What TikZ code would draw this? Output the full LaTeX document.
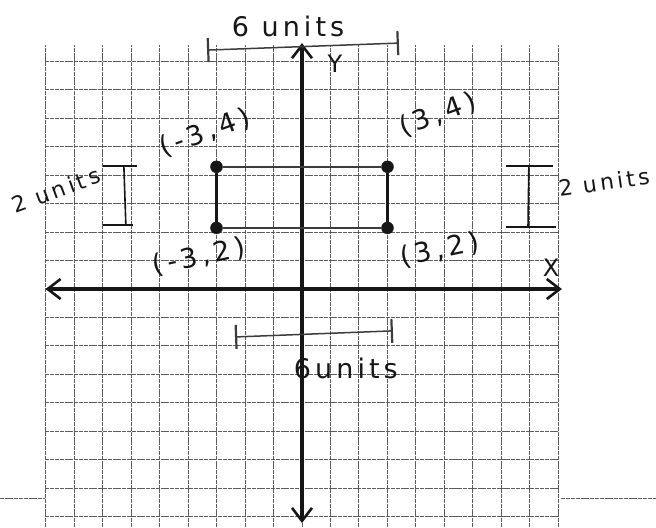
\documentclass[tikz,border=0pt]{standalone}
\usepackage{fontspec}
\usepackage{xcolor}
\usepackage{tikz}
\usetikzlibrary{arrows.meta, positioning, calc}
\newfontfamily\handfont[LetterSpace=15]{DejaVu Sans}
\definecolor{gridgray}{HTML}{5C5C5C}
\definecolor{inkblack}{HTML}{161616}
\definecolor{pencilgray}{HTML}{3C3C3C}

\begin{document}
\begin{tikzpicture}[
  x=28.5pt, y=30.55pt,
  gridline/.style={color=gridgray, line width=0.9pt, dash pattern=on 4pt off 0.8pt},
  axis/.style={color=inkblack, line width=3.2pt,
               {Straight Barb[length=13pt, width=20pt, line width=2.6pt]}-{Straight Barb[length=13pt, width=20pt, line width=2.6pt]}},
  dot/.style={circle, fill=inkblack, draw=inkblack, inner sep=0pt, minimum size=12pt},
  edge/.style={color=pencilgray, line width=1.8pt},
  side/.style={color=inkblack, line width=2.2pt},
  measure/.style={{Bar[width=24pt, line width=2.2pt]}-{Bar[width=24pt, line width=2.2pt]},
                  line width=1.5pt, color=pencilgray},
  bracket/.style={color=inkblack, line width=1.6pt},
  lbl/.style={font=\handfont\fontsize{27}{30}\selectfont, inner sep=0pt, color=inkblack},
  smalllbl/.style={font=\handfont\fontsize{22}{26}\selectfont, inner sep=0pt, color=inkblack},
]
% Frame
\useasboundingbox (-10.596,-7.790) rectangle (12.421,9.460);

% Grid paper
\draw[gridline] (-9,-7.79) grid (9,8);
\draw[gridline] (-10.6,-6.85) -- (-9,-6.85);
\draw[gridline] (9.1,-6.85) -- (12.43,-6.85);

% Axes
\coordinate (xl) at (-9,0);
\coordinate (xr) at (9.12,0);
\coordinate (yt) at (0,8.05);
\coordinate (yb) at (0,-7.66);
\draw[axis] (xl) -- (xr);
\draw[axis] (yb) -- (yt);
\node[lbl, font=\handfont\fontsize{24}{26}\selectfont] (ylab) at (1.16,7.36) {Y};
\node[lbl, font=\handfont\fontsize{24}{26}\selectfont] (xlab) at (8.74,0.69) {X};

% Corners
\node[dot] (ptl) at (-3,4) {};
\node[dot] (pbl) at (-3,2) {};
\node[dot] (ptr) at (3,4) {};
\node[dot] (pbr) at (3,2) {};

% Rectangle
\draw[edge] (ptl) -- (ptr);
\draw[edge] (pbl) -- (pbr);
\draw[side] (ptl) -- (pbl);
\draw[side] (ptr) -- (pbr);

% Corner labels
\node[lbl, rotate=20] (ltl) at (-3.40,5.11) {(-3,4)};
\node[lbl, rotate=12] (lbl) at (-3.61,1.05) {(-3,2)};
\node[lbl, rotate=20] (ltr) at (4.77,5.70) {(3,4)};
\node[lbl, rotate=12] (lbr) at (4.84,1.28) {(3,2)};

% Width marks
\coordinate (wt1) at (-3.33,7.82);
\coordinate (wt2) at (3.40,8.05);
\draw[measure] (wt1) -- (wt2);
\node[lbl] (wtop) at (-0.49,8.61) {6 units};

\coordinate (wb1) at (-2.35,-1.57);
\coordinate (wb2) at (3.19,-1.37);
\draw[measure] (wb1) -- (wb2);
\node[lbl] (wbot) at (1.54,-2.59) {6units};

% Height marks
\draw[bracket] (-6.98,4.03) -- (-5.79,4.03);
\draw[bracket] (-6.25,4.03) -- (-6.18,2.09);
\draw[bracket] (-6.98,2.09) -- (-5.93,2.09);
\node[smalllbl, rotate=20] (hleft) at (-8.63,3.24) {2 units};

\draw[bracket] (7.16,4.03) -- (8.81,4.03);
\draw[bracket] (7.96,4.03) -- (7.93,2.03);
\draw[bracket] (7.16,2.03) -- (8.91,2.03);
\node[smalllbl, rotate=8] (hright) at (10.6,3.50) {2 units};
\end{tikzpicture}
\end{document}
